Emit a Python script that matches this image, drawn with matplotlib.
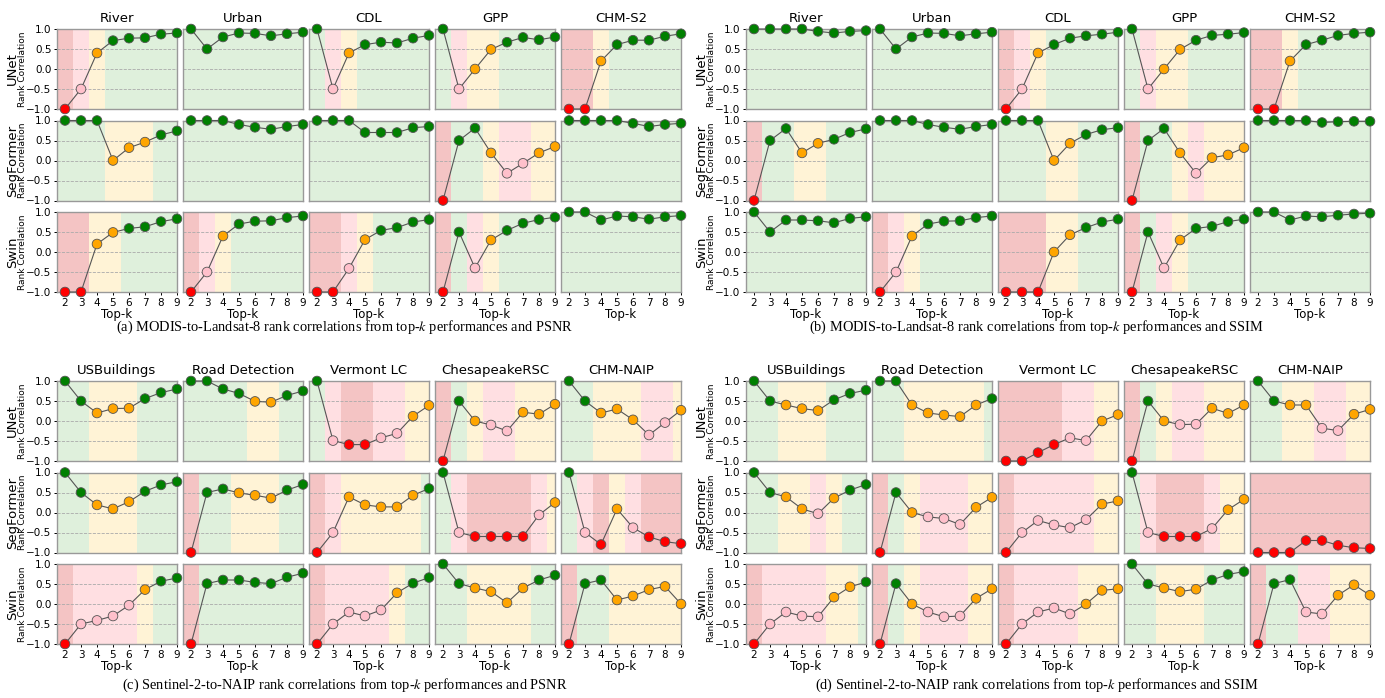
import matplotlib.pyplot as plt

plt.rcParams['font.family'] = 'DejaVu Sans'
plt.rcParams['mathtext.fontset'] = 'stix'

top_k = [2, 3, 4, 5, 6, 7, 8, 9]
models = ['UNet', 'SegFormer', 'Swin']
modis_tasks = ['River', 'Urban', 'CDL', 'GPP', 'CHM-S2']
naip_tasks = ['USBuildings', 'Road Detection', 'Vermont LC', 'ChesapeakeRSC', 'CHM-NAIP']

# (a) MODIS-to-Landsat-8, PSNR   (one row per task)
a_unet = [[-1, -0.5, 0.4, 0.71, 0.77, 0.78, 0.87, 0.9],
          [1, 0.5, 0.8, 0.9, 0.89, 0.83, 0.88, 0.92],
          [1, -0.5, 0.4, 0.61, 0.67, 0.65, 0.77, 0.84],
          [1, -0.5, 0.0, 0.49, 0.67, 0.79, 0.73, 0.8],
          [-1, -1, 0.2, 0.61, 0.72, 0.72, 0.82, 0.88]]
a_segformer = [[1, 1, 1, 0.0, 0.32, 0.46, 0.64, 0.74],
               [1, 1, 1, 0.9, 0.83, 0.78, 0.85, 0.9],
               [1, 1, 1, 0.7, 0.7, 0.7, 0.82, 0.85],
               [-1, 0.5, 0.81, 0.19, -0.32, -0.07, 0.19, 0.35],
               [1, 1, 1, 1, 0.93, 0.85, 0.9, 0.93]]
a_swin = [[-1, -1, 0.2, 0.49, 0.59, 0.63, 0.76, 0.83],
          [-1, -0.5, 0.4, 0.7, 0.77, 0.78, 0.86, 0.9],
          [-1, -1, -0.41, 0.31, 0.54, 0.61, 0.75, 0.81],
          [-1, 0.5, -0.4, 0.3, 0.54, 0.72, 0.81, 0.87],
          [1, 1, 0.8, 0.9, 0.88, 0.82, 0.88, 0.91]]

# (b) MODIS-to-Landsat-8, SSIM
b_unet = [[1, 1, 1, 1, 0.94, 0.9, 0.94, 0.96],
          [1, 0.5, 0.8, 0.9, 0.89, 0.83, 0.88, 0.92],
          [-1, -0.5, 0.4, 0.61, 0.77, 0.83, 0.87, 0.92],
          [1, -0.5, 0.0, 0.49, 0.72, 0.84, 0.87, 0.91],
          [-1, -1, 0.2, 0.61, 0.72, 0.84, 0.89, 0.92]]
b_segformer = [[-1, 0.5, 0.8, 0.19, 0.43, 0.53, 0.7, 0.79],
               [1, 1, 1, 0.9, 0.83, 0.78, 0.85, 0.9],
               [1, 1, 1, 0.0, 0.43, 0.65, 0.77, 0.82],
               [-1, 0.5, 0.8, 0.19, -0.32, 0.07, 0.14, 0.32],
               [1, 1, 1, 1, 0.95, 0.97, 0.98, 0.98]]
b_swin = [[1, 0.5, 0.8, 0.8, 0.78, 0.73, 0.84, 0.88],
          [-1, -0.5, 0.4, 0.7, 0.77, 0.78, 0.86, 0.9],
          [-1, -1, -1, 0.0, 0.43, 0.61, 0.75, 0.82],
          [-1, 0.5, -0.4, 0.3, 0.59, 0.64, 0.76, 0.82],
          [1, 1, 0.8, 0.9, 0.88, 0.92, 0.95, 0.97]]

# (c) Sentinel-2-to-NAIP, PSNR
c_unet = [[1, 0.5, 0.2, 0.31, 0.32, 0.56, 0.71, 0.8],
          [1, 1, 0.8, 0.69, 0.49, 0.47, 0.64, 0.75],
          [1, -0.49, -0.59, -0.59, -0.42, -0.31, 0.12, 0.39],
          [-1, 0.5, 0.0, -0.1, -0.25, 0.22, 0.17, 0.42],
          [1, 0.5, 0.2, 0.3, 0.03, -0.35, -0.04, 0.27]]
c_segformer = [[1, 0.5, 0.19, 0.09, 0.27, 0.53, 0.69, 0.77],
               [-1, 0.5, 0.59, 0.49, 0.43, 0.36, 0.56, 0.7],
               [-1, -0.5, 0.39, 0.19, 0.14, 0.14, 0.43, 0.6],
               [1, -0.5, -0.6, -0.6, -0.6, -0.6, -0.06, 0.25],
               [1, -0.5, -0.8, 0.09, -0.38, -0.61, -0.73, -0.78]]
c_swin = [[-1, -0.5, -0.41, -0.3, -0.03, 0.36, 0.57, 0.65],
          [-1, 0.51, 0.6, 0.6, 0.54, 0.51, 0.67, 0.77],
          [-1, -0.5, -0.2, -0.3, -0.15, 0.28, 0.52, 0.66],
          [1, 0.51, 0.4, 0.31, 0.03, 0.4, 0.6, 0.72],
          [-1, 0.51, 0.6, 0.1, 0.2, 0.36, 0.44, 0.0]]

# (d) Sentinel-2-to-NAIP, SSIM
d_unet = [[1, 0.5, 0.4, 0.31, 0.26, 0.53, 0.69, 0.77],
          [1, 1, 0.4, 0.2, 0.15, 0.11, 0.4, 0.56],
          [-1, -1, -0.79, -0.59, -0.42, -0.49, 0.0, 0.16],
          [-1, 0.5, 0.0, -0.09, -0.08, 0.32, 0.19, 0.4],
          [1, 0.5, 0.4, 0.4, -0.18, -0.24, 0.17, 0.29]]
d_segformer = [[1, 0.5, 0.39, 0.09, -0.03, 0.36, 0.56, 0.7],
               [-1, 0.5, 0.0, -0.11, -0.15, -0.3, 0.13, 0.38],
               [-1, -0.5, -0.2, -0.31, -0.38, -0.18, 0.21, 0.29],
               [1, -0.5, -0.6, -0.6, -0.6, -0.4, 0.07, 0.33],
               [-1, -1, -1, -0.7, -0.7, -0.82, -0.88, -0.9]]
d_swin = [[-1, -0.5, -0.2, -0.3, -0.32, 0.17, 0.43, 0.55],
          [-1, 0.51, 0.0, -0.2, -0.32, -0.3, 0.14, 0.38],
          [-1, -0.5, -0.2, -0.1, -0.25, 0.0, 0.34, 0.38],
          [1, 0.5, 0.4, 0.31, 0.37, 0.6, 0.74, 0.81],
          [-1, 0.51, 0.61, -0.2, -0.25, 0.22, 0.48, 0.22]]

marker_colors = ['green', 'orange', 'pink', 'red']
band_colors = ['#dff0dc', '#fff3d6', '#ffdfe2', '#f4c4c4']


def level(v):
    if v >= 0.5:
        return 0
    if v >= 0:
        return 1
    if v >= -0.5:
        return 2
    return 3


W, H = 1385, 698
fig = plt.figure(figsize=(W / 100, H / 100), dpi=100)

panels = [
    ('a', [a_unet, a_segformer, a_swin], modis_tasks, 'MODIS-to-Landsat-8', 'PSNR', 57, 29, 327),
    ('b', [b_unet, b_segformer, b_swin], modis_tasks, 'MODIS-to-Landsat-8', 'SSIM', 746, 29, 327),
    ('c', [c_unet, c_segformer, c_swin], naip_tasks, 'Sentinel-2-to-NAIP', 'PSNR', 57, 381, 685),
    ('d', [d_unet, d_segformer, d_swin], naip_tasks, 'Sentinel-2-to-NAIP', 'SSIM', 746, 381, 685),
]

for letter, rows, tasks, source, metric, left, top, cy in panels:
    for r, model in enumerate(models):
        for c, task in enumerate(tasks):
            vals = rows[r][c]
            x0 = left + c * 126
            y0 = top + r * 91.5
            ax = fig.add_axes([x0 / W, (H - y0 - 80) / H, 120 / W, 80 / H])
            for k, v in zip(top_k, vals):
                ax.axvspan(k - 0.5, k + 0.5, color=band_colors[level(v)], lw=0, zorder=0)
            ax.plot(top_k, vals, color='#555555', lw=0.8, zorder=3, clip_on=False)
            ax.scatter(top_k, vals, c=[marker_colors[level(v)] for v in vals], s=48,
                       edgecolors='#555555', linewidths=0.6, zorder=4, clip_on=False)
            ax.set_xlim(1.5, 9)
            ax.set_ylim(-1, 1)
            ax.set_xticks(top_k)
            ax.set_yticks([-1, -0.5, 0, 0.5, 1])
            ax.grid(axis='y', linestyle='--', color='#aaaaaa', lw=0.6)
            for s in ax.spines.values():
                s.set_color('#999999')
                s.set_linewidth(1.0)
            ax.tick_params(labelsize=7.5, length=2.5, width=0.7, pad=1.5)
            if c == 0:
                ax.text(-0.37, 0.5, model, rotation=90, ha='center', va='center',
                        fontsize=9.5, transform=ax.transAxes)
                ax.text(-0.29, 0.5, 'Rank Correlation', rotation=90, ha='center',
                        va='center', fontsize=6.5, transform=ax.transAxes)
            else:
                ax.tick_params(axis='y', labelleft=False, length=0)
            if r == 2:
                ax.set_xlabel('Top-k', fontsize=8.5, labelpad=0)
            else:
                ax.tick_params(axis='x', labelbottom=False, length=0)
            if r == 0:
                ax.set_title(task, fontsize=9.5, pad=5)
    cx = 345 if left < 600 else 1037
    fig.text(cx / W, 1 - cy / H,
             f'({letter}) {source} rank correlations from top-$k$ performances and {metric}',
             family='Liberation Serif', fontsize=10.4, ha='center', va='center')

fig.savefig('out.png', dpi=100)
